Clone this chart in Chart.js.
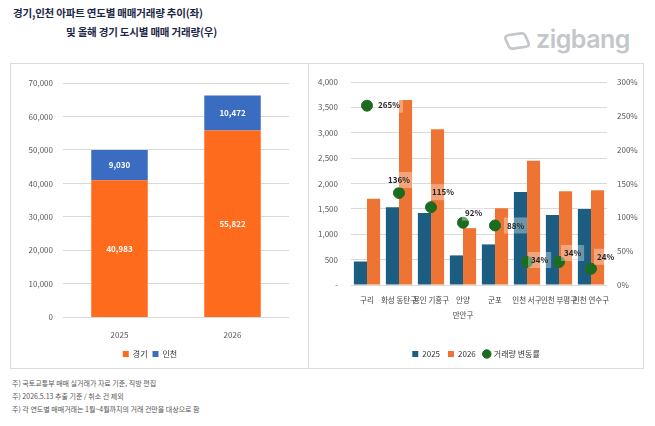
<!DOCTYPE html>
<html>
<head>
<meta charset="utf-8">
<script src="https://cdn.jsdelivr.net/npm/chart.js@4/dist/chart.umd.min.js"></script>
<style>
  body { margin: 0; background: #fff; font-family: 'Noto Sans CJK KR', sans-serif; }
  #wrap { position: relative; width: 655px; height: 426px; overflow: hidden; }
  .title { position: absolute; font-size: 10.5px; font-weight: bold; color: #1c2746; white-space: nowrap; letter-spacing: -0.2px; }
  .panel { position: absolute; border: 1px solid #dcdcdc; box-sizing: border-box; }
  .note { position: absolute; left: 12px; font-size: 7px; color: #555; white-space: nowrap; }
  #logo { position: absolute; left: 503px; top: 24px; color: #c3c6ca; font-family: 'Inter', sans-serif; font-weight: 600; font-size: 25px; letter-spacing: -0.5px; }
  #logo svg { vertical-align: -3px; margin-right: 3px; }
</style>
</head>
<body>
<div id="wrap">
  <div class="title" style="left:13px; top:5px;">경기,인천 아파트 연도별 매매거래량 추이(좌)</div>
  <div class="title" style="left:66px; top:24px;">및 올해 경기 도시별 매매 거래량(우)</div>
  <div id="logo"><svg width="30" height="20" viewBox="0 0 30 20"><path d="M7 3 L19 3 Q22 3 23 6 L25 13 Q26 17 22 17 L9 17 Q6 17 5 14 L3 7 Q2 3 7 3 Z" fill="none" stroke="#c3c6ca" stroke-width="2.6" transform="rotate(-8 14 10)"/></svg>zigbang</div>
  <div class="panel" style="left:10px; top:63px; width:299px; height:306px;">
    <canvas id="left" width="297" height="304"></canvas>
  </div>
  <div class="panel" style="left:308px; top:63px; width:336px; height:306px;">
    <canvas id="right" width="334" height="304"></canvas>
  </div>
  <div class="note" style="top:378px;">주) 국토교통부 매매 실거래가 자료 기준, 직방 편집</div>
  <div class="note" style="top:391px;">주) 2026.5.13 추출 기준 / 취소 건 제외</div>
  <div class="note" style="top:404px;">주) 각 연도별 매매거래는 1월~4월까지의 거래 건만을 대상으로 함</div>
</div>
<script>
// left: yearly totals
var years = ['2025', '2026'];
var gyeonggi = [40983, 55822];
var incheon = [9030, 10472];

// right: cities
var cities = [['구리', ''], ['화성 동탄구', ''], ['용인 기흥구', ''], ['안양', '만안구'], ['군포', ''], ['인천 서구', ''], ['인천 부평구', ''], ['인천 연수구', '']];
var deals2025 = [463, 1533, 1420, 583, 800, 1833, 1380, 1500];
var deals2026 = [1700, 3645, 3070, 1120, 1513, 2447, 1847, 1867];
var changeRate = [265, 136, 115, 92, 88, 34, 34, 24];

var FONT = 'Noto Sans CJK KR';
Chart.defaults.font.family = FONT;
Chart.defaults.color = '#595959';

function fmt(v) { return v.toLocaleString('en-US'); }

var stackLabels = {
  id: 'stackLabels',
  afterDatasetsDraw: function (chart) {
    var ctx = chart.ctx;
    ctx.save();
    ctx.font = 'bold 8px ' + FONT;
    ctx.fillStyle = '#fff';
    ctx.textAlign = 'center';
    ctx.textBaseline = 'middle';
    chart.data.datasets.forEach(function (ds, i) {
      chart.getDatasetMeta(i).data.forEach(function (bar, j) {
        ctx.fillText(fmt(ds.data[j]), bar.x, (bar.y + bar.base) / 2);
      });
    });
    ctx.restore();
  }
};

new Chart(document.getElementById('left'), {
  type: 'bar',
  data: {
    labels: years,
    datasets: [
      { label: '경기', data: gyeonggi, backgroundColor: '#ff6b1c' },
      { label: '인천', data: incheon, backgroundColor: '#3a6dc2' }
    ]
  },
  options: {
    responsive: false,
    animation: false,
    layout: { padding: { top: 19, right: 19, left: 0, bottom: 0 } },
    datasets: { bar: { categoryPercentage: 1, barPercentage: 0.5 } },
    plugins: {
      legend: {
        position: 'bottom',
        labels: { boxWidth: 6, boxHeight: 6, font: { size: 8 }, padding: 5, color: '#333' }
      },
      tooltip: { enabled: false }
    },
    scales: {
      x: {
        stacked: true,
        grid: { display: false },
        border: { display: false },
        ticks: { font: { size: 8 }, padding: 5 }
      },
      y: {
        stacked: true,
        min: 0, max: 70000,
        afterFit: function (s) { s.width = 52; },
        grid: { color: '#d9d9d9', drawTicks: false },
        border: { display: false },
        ticks: { stepSize: 10000, font: { size: 8 }, padding: 10, callback: function (v) { return fmt(v); } }
      }
    }
  },
  plugins: [stackLabels]
});

var rateLabels = {
  id: 'rateLabels',
  afterDatasetsDraw: function (chart, args, opts) {
    var ctx = chart.ctx;
    var meta = chart.getDatasetMeta(2);
    ctx.save();
    ctx.font = 'bold 8px ' + FONT;
    ctx.textBaseline = 'middle';
    meta.data.forEach(function (pt, j) {
      var o = opts.offsets[j];
      var txt = changeRate[j] + '%';
      var w = ctx.measureText(txt).width;
      var x = o.center ? pt.x - w / 2 + o.dx : pt.x + o.dx;
      var y = pt.y + o.dy;
      ctx.fillStyle = 'rgba(255,255,255,0.35)';
      ctx.fillRect(x - 3, y - 8, w + 6, 16);
      ctx.fillStyle = '#262626';
      ctx.fillText(txt, x, y);
    });
    ctx.restore();
  }
};

new Chart(document.getElementById('right'), {
  type: 'bar',
  data: {
    labels: cities,
    datasets: [
      { label: '2025', data: deals2025, backgroundColor: '#1b5e82', order: 1, yAxisID: 'y' },
      { label: '2026', data: deals2026, backgroundColor: '#ee7433', order: 1, yAxisID: 'y' },
      { type: 'line', label: '거래량 변동률', data: changeRate, yAxisID: 'y1', order: 0,
        showLine: false, pointRadius: 5.5, pointBackgroundColor: '#1d6b21', pointBorderColor: '#1d6b21',
        backgroundColor: '#1d6b21', borderColor: '#1d6b21', pointStyle: 'circle' }
    ]
  },
  options: {
    responsive: false,
    animation: false,
    layout: { padding: { top: 18, right: 0, left: 0, bottom: 0 } },
    datasets: { bar: { categoryPercentage: 0.82, barPercentage: 1 } },
    plugins: {
      legend: {
        position: 'bottom',
        labels: {
          usePointStyle: true, boxWidth: 6, boxHeight: 6, font: { size: 8 }, padding: 8, color: '#333',
          sort: function (a, b) { return a.datasetIndex - b.datasetIndex; },
          generateLabels: function (chart) {
            return Chart.defaults.plugins.legend.labels.generateLabels(chart).map(function (it) {
              if (it.datasetIndex < 2) it.pointStyle = 'rect';
              return it;
            });
          }
        }
      },
      tooltip: { enabled: false },
      rateLabels: {
        offsets: [
          { dx: 11, dy: -1 }, { dx: 0, dy: -13, center: true }, { dx: 1, dy: -15 }, { dx: 2, dy: -10 },
          { dx: 12, dy: 0 }, { dx: 4, dy: -2 }, { dx: 5, dy: -9 }, { dx: 6, dy: -12 }
        ]
      }
    },
    scales: {
      x: {
        afterFit: function (s) { s.height = 57; },
        grid: { display: false },
        border: { display: false },
        ticks: { font: { size: 7.5, lineHeight: 2 }, padding: 0, maxRotation: 0, autoSkip: false, color: '#444' }
      },
      y: {
        position: 'left',
        min: 0, max: 4000,
        afterFit: function (s) { s.width = 42; },
        grid: { color: '#d9d9d9', drawTicks: false },
        border: { display: false },
        ticks: { stepSize: 500, font: { size: 8 }, padding: 13, callback: function (v) { return v === 0 ? '-' : fmt(v); } }
      },
      y1: {
        position: 'right',
        min: 0, max: 300,
        afterFit: function (s) { s.width = 36; },
        grid: { display: false, drawTicks: false },
        border: { display: false },
        ticks: { stepSize: 50, font: { size: 8 }, padding: 10, callback: function (v) { return v + '%'; } }
      }
    }
  },
  plugins: [rateLabels]
});
</script>
</body>
</html>
